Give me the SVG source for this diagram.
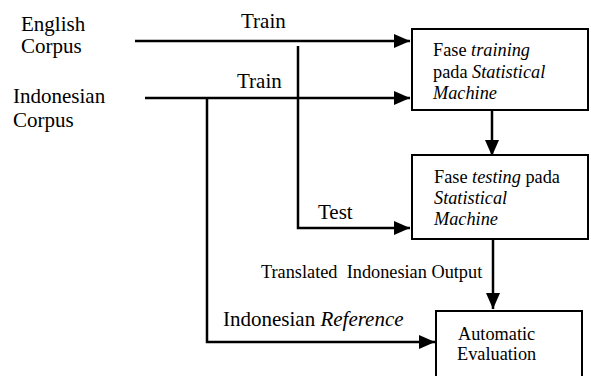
<svg xmlns="http://www.w3.org/2000/svg" width="591" height="376" viewBox="0 0 591 376" font-family="'Liberation Serif', 'Times New Roman', Times, serif">
  <style>
    .lbl { font-size: 21px; }
    .box-text { font-size: 18.3px; }
    .box { fill: #fff; stroke: #000; stroke-width: 2; }
    .wire { fill: none; stroke: #000; stroke-width: 2.5; }
  </style>
  <defs>
    <marker id="arrow" viewBox="0 0 16 14" refX="16" refY="7" markerWidth="16" markerHeight="14" markerUnits="userSpaceOnUse" orient="auto">
      <path d="M0,0 L16,7 L0,14 Z" fill="#000"/>
    </marker>
  </defs>

  <rect width="591" height="376" fill="#fff"/>

  <!-- source labels -->
  <g id="english-corpus">
    <text class="lbl" x="21" y="31">English</text>
    <text class="lbl" x="21" y="53">Corpus</text>
  </g>
  <g id="indonesian-corpus">
    <text class="lbl" x="13" y="103">Indonesian</text>
    <text class="lbl" x="13" y="127">Corpus</text>
  </g>

  <!-- process boxes -->
  <g id="training">
    <rect class="box" x="412" y="29" width="176" height="81"/>
    <text class="box-text" x="433" y="56">Fase <tspan font-style="italic">training</tspan></text>
    <text class="box-text" x="433" y="78">pada <tspan font-style="italic">Statistical</tspan></text>
    <text class="box-text" x="433" y="99" font-style="italic">Machine</text>
  </g>
  <g id="testing">
    <rect class="box" x="412" y="155" width="176" height="84"/>
    <text class="box-text" x="434" y="183">Fase <tspan font-style="italic">testing</tspan> pada</text>
    <text class="box-text" x="434" y="204" font-style="italic">Statistical</text>
    <text class="box-text" x="434" y="225" font-style="italic">Machine</text>
  </g>
  <g id="evaluation">
    <rect class="box" x="436" y="311" width="146" height="80"/>
    <text class="box-text" x="458" y="340">Automatic</text>
    <text class="box-text" x="457" y="360">Evaluation</text>
  </g>

  <!-- connectors -->
  <g id="connectors">
    <path class="wire" d="M135,41 H410" marker-end="url(#arrow)"/>
    <path class="wire" d="M145,98 H410" marker-end="url(#arrow)"/>
    <path class="wire" d="M298,46 V228 H410" marker-end="url(#arrow)"/>
    <path class="wire" d="M207,98 V342 H435" marker-end="url(#arrow)"/>
    <path class="wire" d="M492,110 V156" marker-end="url(#arrow)"/>
    <path class="wire" d="M493,239 V309" marker-end="url(#arrow)"/>
  </g>

  <!-- connector labels -->
  <g id="labels">
    <text class="lbl" x="241" y="28">Train</text>
    <text class="lbl" x="237" y="88">Train</text>
    <text class="lbl" x="318" y="219">Test</text>
    <text class="box-text" x="261" y="278" xml:space="preserve">Translated  Indonesian Output</text>
    <text class="lbl" x="223" y="326">Indonesian <tspan font-style="italic">Reference</tspan></text>
  </g>
</svg>
